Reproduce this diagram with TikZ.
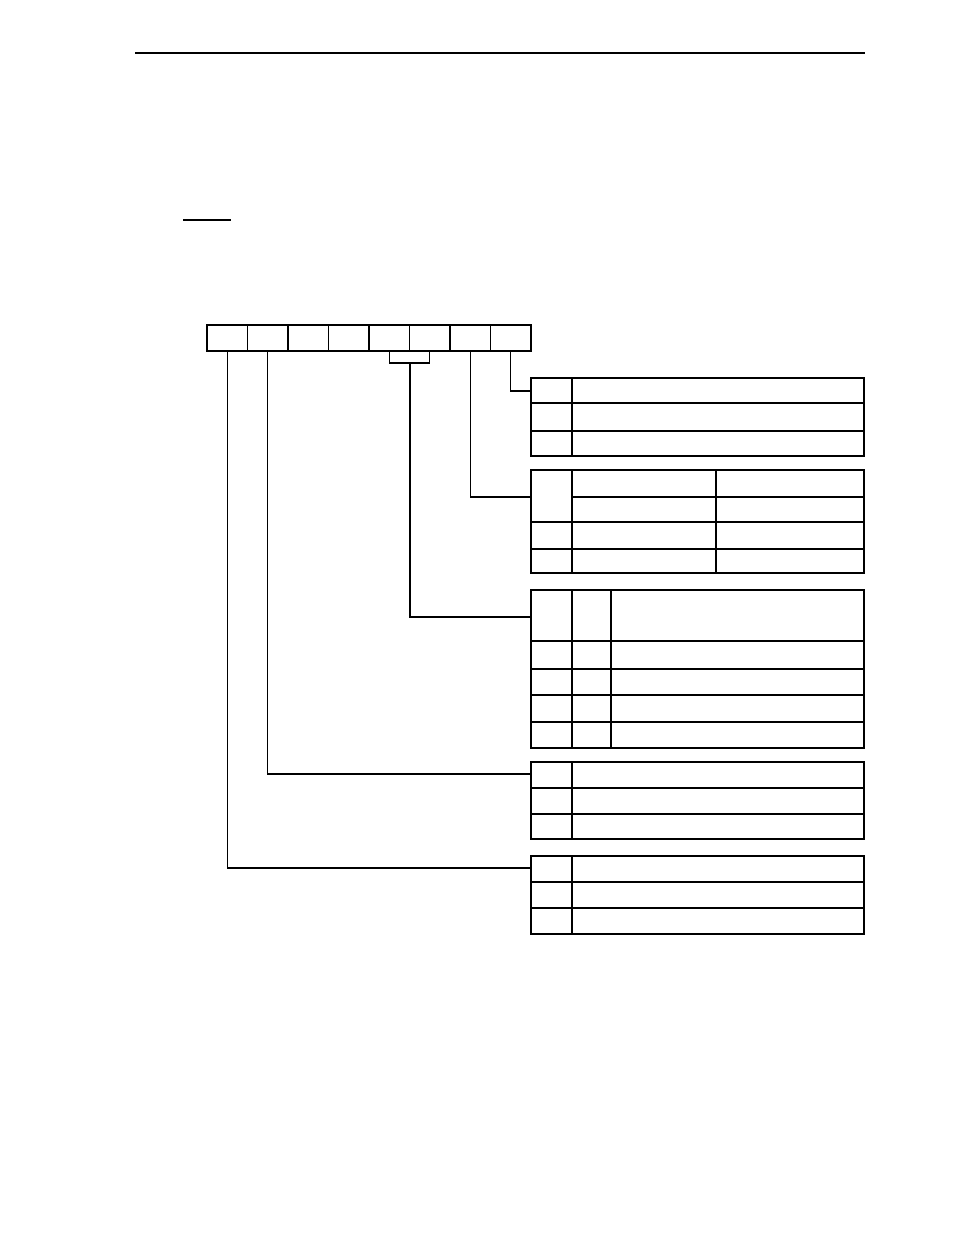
\documentclass[tikz,border=0pt]{standalone}
\usetikzlibrary{positioning}
\tikzstyle{bitcell} = [rectangle, minimum width=30.375pt, minimum height=19.5pt, draw=black, line width=0.8pt, inner sep=0pt, outer sep=0pt]
\tikzstyle{conn} = [line width=0.8pt]
\tikzstyle{thin} = [line width=0.9pt]
\tikzstyle{thick} = [line width=1.7pt]

\begin{document}
\begin{tikzpicture}[x=0.75pt, y=-0.75pt]
\useasboundingbox (0,0) rectangle (954,1235);
% page rule and short underline
\draw[thin] (135,53) -- (865,53);
\draw[thin] (183,220) -- (231,220);

% register cells
\foreach \i in {0,...,7}
  \node (b\i) [bitcell] at ({227.25+40.5*\i},338) {};
\draw[thick] (b0.north west) rectangle (b7.south east);

% attach points of the tables
\coordinate (brk) at (410,363);
\coordinate (t1a) at (531,391);
\coordinate (t2a) at (531,497);
\coordinate (t3a) at (531,617);
\coordinate (t4a) at (531,774);
\coordinate (t5a) at (531,868);

% connectors
\draw[conn] (b7.south) |- (t1a);
\draw[conn] (b6.south) |- (t2a);
\draw[conn] (b4.south) |- (brk) -| (b5.south);
\draw[conn] (brk) |- (t3a);
\draw[conn] (b1.south) |- (t4a);
\draw[conn] (b0.south) |- (t5a);

% table 1
\foreach \y in {403,431} \draw[thin] (531,\y) -- (864,\y);
\draw[thick] (572,378) -- (572,456);
\draw[thick] (531,378) rectangle (864,456);

% table 2
\draw[thin] (572,497) -- (864,497);
\foreach \y in {522,549} \draw[thin] (531,\y) -- (864,\y);
\draw[thin] (716,470) -- (716,573);
\draw[thick] (572,470) -- (572,573);
\draw[thick] (531,470) rectangle (864,573);

% table 3
\foreach \y in {641,669,695,722} \draw[thin] (531,\y) -- (864,\y);
\draw[thin] (572,590) -- (572,748);
\draw[thick] (611,590) -- (611,748);
\draw[thick] (531,590) rectangle (864,748);

% table 4
\foreach \y in {788,814} \draw[thin] (531,\y) -- (864,\y);
\draw[thick] (572,762) -- (572,839);
\draw[thick] (531,762) rectangle (864,839);

% table 5
\foreach \y in {882,908} \draw[thin] (531,\y) -- (864,\y);
\draw[thick] (572,856) -- (572,934);
\draw[thick] (531,856) rectangle (864,934);
\end{tikzpicture}
\end{document}
